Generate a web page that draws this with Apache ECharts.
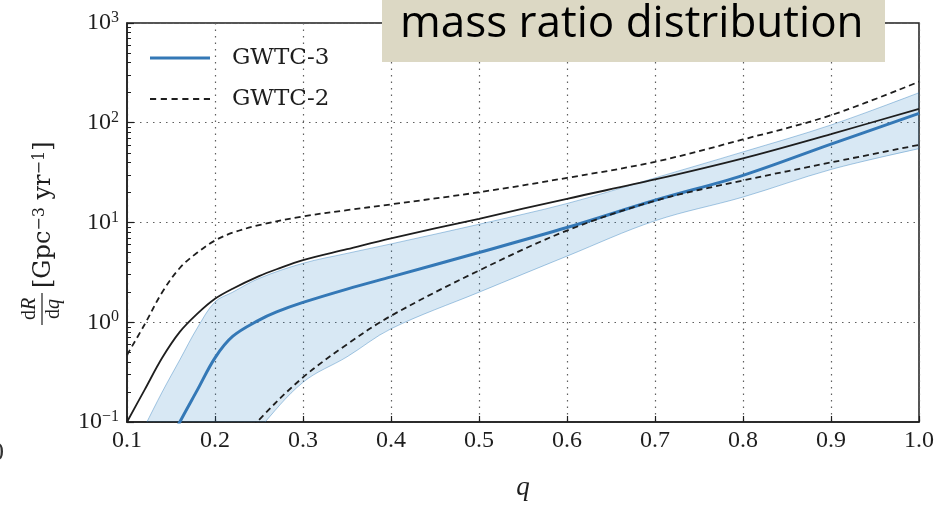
<!DOCTYPE html>
<html><head><meta charset="utf-8">
<script src="https://cdn.jsdelivr.net/npm/echarts@6/dist/echarts.min.js"></script>
<style>html,body{margin:0;padding:0;background:#fff;}#c{width:950px;height:506px;}</style>
</head><body><div id="c"></div>
<script>
// ---- data ----
const qBand     = [0.10,0.12,0.14,0.16,0.18,0.20,0.22,0.25,0.30,0.35,0.40,0.50,0.60,0.70,0.80,0.90,1.00];
const bandUpper = [0.04,0.09,0.20,0.42,0.88,1.6,2.0,2.75,3.9,4.9,6.1,9.6,15.5,28,51,95,200];
const bandLower = [0.004,0.005,0.006,0.008,0.012,0.02,0.04,0.085,0.25,0.45,0.86,2.0,4.6,10.4,18,34,55];

const qGWTC3      = [0.14,0.16,0.18,0.20,0.22,0.25,0.27,0.30,0.35,0.40,0.50,0.60,0.70,0.80,0.90,1.00];
const gwtc3Median = [0.045,0.10,0.21,0.44,0.72,1.05,1.27,1.58,2.15,2.85,5.0,8.9,16.7,29.7,61,124];

const qRef     = [0.10,0.12,0.14,0.16,0.18,0.20,0.22,0.25,0.27,0.30,0.35,0.40,0.50,0.60,0.70,0.80,0.90,1.00];
const refSolid = [0.10,0.21,0.44,0.80,1.22,1.72,2.17,2.9,3.4,4.2,5.4,6.95,10.9,17.3,27,44,77,138];

const qUp        = [0.10,0.12,0.14,0.16,0.18,0.20,0.22,0.25,0.30,0.35,0.40,0.50,0.60,0.70,0.80,0.90,1.00];
const gwtc2Upper = [0.47,0.95,2.0,3.5,5.0,6.6,7.9,9.4,11.5,13.3,15.2,20.1,28,40.6,68,119,258];

const qLow       = [0.20,0.22,0.25,0.30,0.35,0.40,0.50,0.60,0.70,0.80,0.90,1.00];
const gwtc2Lower = [0.03,0.05,0.105,0.28,0.60,1.16,3.3,8.3,16.5,26.4,40,60];

const yMinorTicks = [0.2,0.3,0.4,0.5,0.6,0.7,0.8,0.9, 2,3,4,5,6,7,8,9, 20,30,40,50,60,70,80,90, 200,300,400,500,600,700,800,900];

const titleText = 'mass ratio distribution';
const legendNames = ['GWTC-3','GWTC-2'];

// ---- chart ----
function pairs(xs, ys){ return xs.map((x,i)=>[x, ys[i]]); }
const serif = 'Liberation Serif';
const ink = '#1e1e1e';
const blue = '#3478b6';
const gridLine = {show:true, lineStyle:{color:'#5f5f5f', width:1.2, type:[1.5,5]}};
const supMap = {'-1':'−1','0':'0','1':'1','2':'2','3':'3'};
const SM = 0.35;

function bandRender(params, api){
  if (params.dataIndex !== 0) return;
  const n = qBand.length;
  const up = qBand.map((q,i)=>api.coord([q, bandUpper[i]]));
  const lo = qBand.map((q,i)=>api.coord([q, bandLower[i]]));
  const loRev = lo.slice().reverse();
  const ring = up.concat([up[n-1], lo[n-1]], loRev, [lo[0], up[0]]);
  return {type:'group', children:[
    {type:'polygon', shape:{points:ring, smooth:SM}, style:{fill:'rgba(40,130,195,0.18)', stroke:null}},
    {type:'polyline', shape:{points:up, smooth:SM}, style:{stroke:'rgba(40,120,185,0.40)', lineWidth:1, fill:null}},
    {type:'polyline', shape:{points:lo, smooth:SM}, style:{stroke:'rgba(40,120,185,0.40)', lineWidth:1, fill:null}}
  ]};
}

const chart = echarts.init(document.getElementById('c'), null, {renderer:'canvas'});
chart.setOption({
  animation:false,
  backgroundColor:'#fff',
  grid:{left:127, top:23, width:792, height:414, show:true, borderColor:ink, borderWidth:1.5, backgroundColor:'transparent'},
  legend:{
    data:[
      {name:'GWTC-3', icon:'path://M0,0H60V3H0Z'},
      {name:'GWTC-2', icon:'path://M0,0h6v2h-6zM10.5,0h6v2h-6zM21,0h6v2h-6zM31.5,0h6v2h-6zM42,0h6v2h-6zM52.5,0h6v2h-6z'}
    ],
    orient:'vertical', left:150, top:45, padding:0,
    itemWidth:60, itemHeight:3, itemGap:15,
    textStyle:{fontFamily:'DejaVu Serif', fontSize:23, color:ink, lineHeight:26, padding:[0,0,0,17]}
  },
  xAxis:{
    type:'value', min:0.1, max:1.0, interval:0.1,
    name:'q', nameLocation:'middle', nameGap:52,
    nameTextStyle:{fontFamily:serif, fontStyle:'italic', fontSize:27, color:ink},
    axisLine:{show:true, onZero:false, lineStyle:{color:ink, width:1.5}},
    axisTick:{show:true, inside:true, length:6, lineStyle:{color:ink, width:1.2}},
    axisLabel:{formatter:v=>v.toFixed(1), fontFamily:serif, fontSize:24, color:ink, margin:7},
    splitLine:gridLine
  },
  yAxis:[{
    type:'log', logBase:10, min:0.1, max:1000,
    axisLine:{show:true, lineStyle:{color:ink, width:1.5}},
    axisTick:{show:true, inside:true, length:7, lineStyle:{color:ink, width:1.2}},
    axisLabel:{
      margin:8,
      formatter:v=>{ const e = Math.round(Math.log10(v)); return '{b|10}{s|' + (supMap[String(e)]||e) + '}'; },
      rich:{
        b:{fontFamily:serif, fontSize:24, color:ink, lineHeight:26},
        s:{fontFamily:serif, fontSize:16, color:ink, verticalAlign:'top', lineHeight:16}
      }
    },
    splitLine:gridLine
  },{
    type:'log', logBase:10, min:0.1, max:1000, position:'left',
    axisLine:{show:false}, axisLabel:{show:false}, splitLine:{show:false},
    axisTick:{show:true, inside:true, length:4, customValues:yMinorTicks, lineStyle:{color:ink, width:1}}
  }],
  series:[
    {name:'band', type:'custom', renderItem:bandRender, clip:true, silent:true, z:1,
     data:qBand.map((q,i)=>[q, bandLower[i], bandUpper[i]]), encode:{x:0, y:1}},
    {name:'GWTC-3', type:'line', data:pairs(qGWTC3, gwtc3Median), symbol:'none', smooth:SM,
     lineStyle:{color:blue, width:3}, itemStyle:{color:blue}, z:3},
    {name:'ref', type:'line', data:pairs(qRef, refSolid), symbol:'none', smooth:SM,
     lineStyle:{color:ink, width:1.8}, z:4},
    {name:'GWTC-2', type:'line', data:pairs(qUp, gwtc2Upper), symbol:'none', smooth:SM,
     lineStyle:{color:ink, width:1.8, type:[6,4]}, itemStyle:{color:ink}, z:5},
    {name:'GWTC-2', type:'line', data:pairs(qLow, gwtc2Lower), symbol:'none', smooth:SM,
     lineStyle:{color:ink, width:1.8, type:[6,4]}, itemStyle:{color:ink}, z:5}
  ],
  graphic:[
    {type:'rect', shape:{x:382, y:-1, width:503, height:63}, style:{fill:'#dcd8c4'}, z:100},
    {type:'text', x:400, y:24, z:101, style:{text:titleText, fontFamily:'Open Sans', fontSize:44, fill:'#000', verticalAlign:'middle'}},
    {type:'text', x:-9, y:453, z:101, style:{text:'0', fontFamily:serif, fontSize:26, fill:'#333', verticalAlign:'middle'}},
    {type:'group', x:42, y:325, rotation:Math.PI/2, z:101, children:[
      {type:'line', shape:{x1:0, y1:0, x2:32, y2:0}, style:{stroke:ink, lineWidth:1.2}},
      {type:'text', x:16, y:-12, style:{text:'{r|d}{i|R}', align:'center', verticalAlign:'middle',
        rich:{r:{fontFamily:serif, fontSize:20, fill:ink}, i:{fontFamily:serif, fontStyle:'italic', fontSize:20, fill:ink}}}},
      {type:'text', x:16, y:12, style:{text:'{r|d}{i|q}', align:'center', verticalAlign:'middle',
        rich:{r:{fontFamily:serif, fontSize:20, fill:ink}, i:{fontFamily:serif, fontStyle:'italic', fontSize:20, fill:ink}}}},
      {type:'text', x:37, y:2, style:{text:'[Gpc{s|−3} yr{s|−1}]', fontFamily:'DejaVu Serif', fontSize:24, fill:ink,
        align:'left', verticalAlign:'middle',
        rich:{s:{fontFamily:'DejaVu Serif', fontSize:16, fill:ink, verticalAlign:'top', lineHeight:16}}}}
    ]}
  ]
});
</script>
</body></html>
